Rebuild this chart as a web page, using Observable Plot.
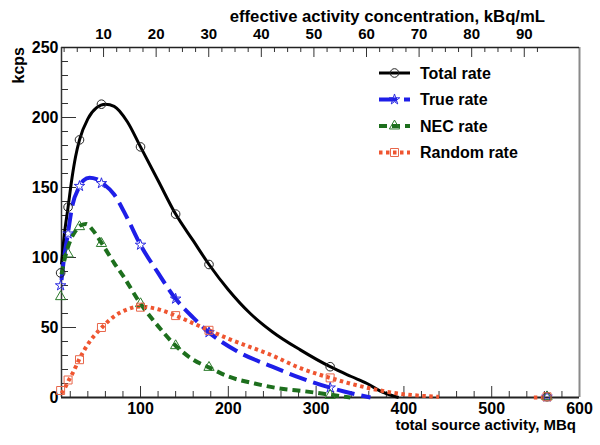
<!DOCTYPE html>
<html><head><meta charset="utf-8">
<script src="https://cdn.jsdelivr.net/npm/d3@7"></script>
<script src="https://cdn.jsdelivr.net/npm/@observablehq/plot@0.6"></script>
<style>
body{margin:0;background:#fff;}
#chart{position:relative;width:600px;height:445px;}
</style></head><body><div id="chart"></div>
<script>
// ---- data ----
const activity = [9, 17.5, 30.5, 55.5, 100, 140, 178, 316, 563];           // MBq, measured points
const totalRate  = [89, 136, 184, 209.5, 179, 131, 95, 22, 0.5];          // kcps
const trueRate   = [80, 117, 151, 153, 109, 70.5, 46.5, 7, 0.5];
const necRate    = [72, 102.5, 122, 110, 67, 37, 21.5, 1.5, 0.5];
const randomRate = [5, 12.5, 27, 50, 64.5, 58.5, 48, 14, 0.5];

// fitted curves
const totalFitX = [10, 13, 17.5, 22, 26, 30.5, 40, 50, 60, 70, 85, 100, 120, 140, 160, 178, 200, 225, 250, 282, 316, 340, 358, 375, 394];
const totalFitY = [95, 115, 136, 157, 172, 184, 199, 207, 209.5, 208, 197, 179, 155, 131, 112, 95, 77, 60, 47, 34, 22, 15, 10, 4, 0];
const trueFitX = [10, 13, 17.5, 22, 30, 35, 42, 50, 57, 70, 85, 100, 120, 140, 160, 178, 210, 250, 282, 316, 340, 362];
const trueFitY = [84, 100, 118, 136, 150, 155, 157, 156, 153, 145, 128, 109, 89, 70.5, 57, 46.5, 33, 22, 14, 7, 3, 0];
const necFitX = [10, 14, 20, 26, 32, 38, 45, 56, 70, 80, 100, 120, 140, 160, 178, 200, 230, 263, 286, 316, 339];
const necFitY = [88, 100, 112, 119, 123, 124, 120, 110, 96, 87, 67, 51, 37, 27, 21.5, 15, 10, 6, 4.5, 2, 0];
const randomFitX = [10, 14, 18, 24, 30, 40, 56, 70, 85, 100, 120, 140, 160, 178, 200, 250, 282, 316, 358, 396, 420, 440];
const randomFitY = [3, 7, 12, 19, 27, 38, 50, 58, 63, 65, 63, 58.5, 53, 48, 42, 30, 21, 14, 7, 2.6, 1.2, 0.5];
const randomTailX = [548, 563];
const randomTailY = [0, 0];

const seriesNames = ["Total rate", "True rate", "NEC rate", "Random rate"];

// axes ticks
const xMajor = [100, 200, 300, 400, 500, 600];
const xMinor = d3.range(20, 600, 20).filter(v => v % 100 !== 0);
const yMajor = [0, 50, 100, 150, 200, 250];
const yMinor = d3.range(10, 250, 10).filter(v => v % 50 !== 0);
const topMajor = [10, 20, 30, 40, 50, 60, 70, 80, 90];
const topMinor = d3.range(2.5, 93, 2.5).filter(v => v % 10 !== 0);
const mbqPerConc = 5.99, concOffset = -2;   // concentration (kBq/mL) -> activity (MBq)
const toMBq = c => c * mbqPerConc + concOffset;

// ---- styles ----
const styles = [
  {color: "#000000", mark: "#222222", width: 3, dash: null, symbol: "circle", d3sym: d3.symbolCircle, r: 4.3},
  {color: "#1e1ee8", mark: "#2a2ae0", width: 4, dash: "18,7", symbol: "star", d3sym: d3.symbolStar, r: 3.3},
  {color: "#1d6f1d", mark: "#2a7a2a", width: 4, dash: "8,5", symbol: "triangle", d3sym: d3.symbolTriangle, r: 3.8},
  {color: "#ef5530", mark: "#e8664a", width: 4, dash: "3.5,3.5", symbol: "square", d3sym: d3.symbolSquare, r: 4.5}
];

const W = 600, H = 445, mL = 61, mR = 21, mT = 47, mB = 48;
const plotW = W - mL - mR, plotH = H - mT - mB;

const pts = (xs, ys) => xs.map((x, i) => ({x, y: ys[i]}));
const fits = [pts(totalFitX, totalFitY), pts(trueFitX, trueFitY), pts(necFitX, necFitY), pts(randomFitX, randomFitY)];
const meas = [totalRate, trueRate, necRate, randomRate].map(ys => pts(activity, ys));

const marks = [];
// tick marks inside the frame
marks.push(Plot.tickX(xMinor, {x: d => d, insetTop: plotH - 6, stroke: "#333"}));
marks.push(Plot.tickX(xMajor, {x: d => d, insetTop: plotH - 11, stroke: "#333"}));
marks.push(Plot.tickX(topMinor.map(toMBq), {x: d => d, insetBottom: plotH - 5, stroke: "#333"}));
marks.push(Plot.tickX(topMajor.map(toMBq), {x: d => d, insetBottom: plotH - 10, stroke: "#333"}));
marks.push(Plot.tickY(yMinor, {y: d => d, insetRight: plotW - 7, stroke: "#333"}));
marks.push(Plot.tickY(yMajor, {y: d => d, insetRight: plotW - 15, stroke: "#333"}));
// frame
marks.push(Plot.ruleX([600], {stroke: "#8a8a8a", strokeWidth: 2}));
marks.push(Plot.ruleY([250], {stroke: "#222", strokeWidth: 1.5}));
marks.push(Plot.ruleY([0], {stroke: "#222", strokeWidth: 2}));
marks.push(Plot.ruleX([10], {stroke: "#333", strokeWidth: 1.5}));
// tick labels
marks.push(Plot.axisX(xMajor, {anchor: "bottom", tickSize: 0, tickPadding: 5, fontSize: 16, label: null}));
marks.push(Plot.axisX(topMajor.map(toMBq), {anchor: "top", tickSize: 0, tickPadding: 9, fontSize: 15, label: null,
  tickFormat: d => String(Math.round((d - concOffset) / mbqPerConc))}));
marks.push(Plot.axisY(yMajor, {anchor: "left", tickSize: 0, tickPadding: 3, fontSize: 16, label: null}));
// curves and points
fits.forEach((f, i) => {
  const s = styles[i];
  marks.push(Plot.line(f, {x: "x", y: "y", stroke: s.color, strokeWidth: s.width, strokeDasharray: s.dash,
    strokeLinecap: "butt", curve: "monotone-x"}));
});
marks.push(Plot.line(pts(randomTailX, randomTailY), {x: "x", y: "y", stroke: styles[3].color, strokeWidth: styles[3].width,
  strokeDasharray: styles[3].dash, strokeLinecap: "butt"}));
meas.forEach((m, i) => {
  const s = styles[i];
  marks.push(Plot.dot(m, {x: "x", y: "y", symbol: () => s.symbol, r: s.r, stroke: s.mark, strokeWidth: 1, fill: "none"}));
});

const chart = Plot.plot({
  width: W, height: H,
  marginLeft: mL, marginRight: mR, marginTop: mT, marginBottom: mB,
  x: {domain: [10, 600]},
  y: {domain: [0, 250]},
  symbol: {type: "identity"},
  style: {fontFamily: "'Liberation Sans', Arial, sans-serif", fontWeight: "bold", background: "#fff", color: "#000", overflow: "visible"},
  marks
});
document.getElementById("chart").appendChild(chart);

// titles and legend
const svg = d3.select(chart);
const font = "'Liberation Sans', Arial, sans-serif";
svg.append("text").text("kcps").attr("transform", `translate(24,${mT}) rotate(-90)`)
  .attr("text-anchor", "end").attr("font-size", 16).attr("font-weight", "bold").attr("font-family", font);
svg.append("text").text("effective activity concentration, kBq/mL").attr("x", 545).attr("y", 22)
  .attr("text-anchor", "end").attr("font-size", 16.7).attr("font-weight", "bold").attr("font-family", font);
svg.append("text").text("total source activity, MBq").attr("x", 576).attr("y", 430)
  .attr("text-anchor", "end").attr("font-size", 15).attr("font-weight", "bold").attr("font-family", font);

const lg = svg.append("g");
seriesNames.forEach((name, i) => {
  const s = styles[i];
  const y = 73 + i * 26.5;
  lg.append("line").attr("x1", 379).attr("x2", 410).attr("y1", y).attr("y2", y)
    .attr("stroke", s.color).attr("stroke-width", s.width).attr("stroke-dasharray", s.dash);
  lg.append("path").attr("d", d3.symbol(s.d3sym, Math.PI * s.r * s.r)()).attr("transform", `translate(394.5,${y})`)
    .attr("fill", "none").attr("stroke", s.mark).attr("stroke-width", 1);
  lg.append("text").text(name).attr("x", 420).attr("y", y).attr("dy", "0.35em").attr("text-anchor", "start")
    .attr("font-size", 16).attr("font-weight", "bold").attr("font-family", font);
});
</script></body></html>
